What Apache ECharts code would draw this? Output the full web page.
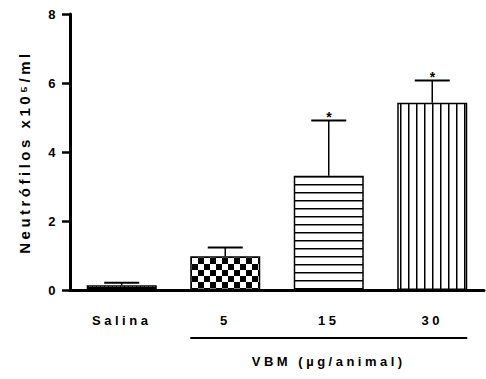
<!DOCTYPE html>
<html>
<head>
<meta charset="utf-8">
<script src="https://cdn.jsdelivr.net/npm/echarts@6/dist/echarts.min.js"></script>
<style>
  html, body { margin: 0; padding: 0; background: #fff; }
  #chart { width: 486px; height: 379px; }
  /* the original uses widely tracked lettering */
  #chart svg text { letter-spacing: 3.5px; }
</style>
</head>
<body>
<div id="chart"></div>
<script>
const categories = ['Salina', '5', '15', '30'];
const means = [0.14, 0.98, 3.31, 5.43];
const sems = [0.07, 0.25, 1.6, 0.64];
const significant = [false, false, true, true];
const yTicks = [0, 2, 4, 6, 8];

const FONT = '"Liberation Sans", Arial, sans-serif';

// fill patterns, one per bar
const makePattern = (w, h, draw) => {
  const c = document.createElement('canvas');
  c.width = w;
  c.height = h;
  const ctx = c.getContext('2d');
  ctx.fillStyle = '#fff';
  ctx.fillRect(0, 0, w, h);
  ctx.fillStyle = '#000';
  draw(ctx);
  return { image: c, repeat: 'repeat' };
};
const patterns = [
  makePattern(4, 3, ctx => { ctx.fillRect(0, 0, 4, 1); ctx.fillRect(0, 1, 1, 2); ctx.fillRect(0, 2, 4, 1); }),
  makePattern(12, 12, ctx => { ctx.fillRect(0, 0, 6, 6); ctx.fillRect(6, 6, 6, 6); }),
  makePattern(8, 8, ctx => { ctx.fillRect(0, 0, 8, 1.5); }),
  makePattern(8, 8, ctx => { ctx.fillRect(0, 0, 1.5, 8); })
];

const chart = echarts.init(document.getElementById('chart'), null, { renderer: 'svg' });

const option = {
  animation: false,
  grid: { left: 70, right: 2, top: 14, bottom: 89 },
  xAxis: {
    type: 'category',
    data: categories,
    axisLine: { lineStyle: { color: '#000', width: 3 } },
    axisTick: { show: false },
    axisLabel: { color: '#000', fontFamily: FONT, fontWeight: 'bold', fontSize: 13, margin: 24 }
  },
  yAxis: {
    type: 'value',
    min: 0,
    max: 8,
    interval: 2,
    name: 'Neutrófilos x10⁵/ml',
    nameLocation: 'middle',
    nameGap: 38,
    nameTextStyle: { color: '#000', fontFamily: FONT, fontWeight: 'bold', fontSize: 15 },
    splitLine: { show: false },
    axisLine: { show: true, lineStyle: { color: '#000', width: 3 } },
    axisTick: { show: true, length: 8, lineStyle: { color: '#000', width: 2.5 } },
    axisLabel: {
      color: '#000', fontFamily: FONT, fontWeight: 'bold', fontSize: 13, margin: 11,
      formatter: v => (yTicks.includes(v) ? String(v) : '')
    }
  },
  series: [
    {
      type: 'bar',
      barWidth: 70,
      data: means.map((v, i) => ({
        value: v,
        itemStyle: { color: patterns[i], borderColor: '#000', borderWidth: 1.5 }
      }))
    },
    {
      type: 'custom',
      z: 3,
      data: means.map((v, i) => [i, v, v + sems[i], significant[i] ? 1 : 0]),
      renderItem: (params, api) => {
        const base = api.coord([api.value(0), api.value(1)]);
        const top = api.coord([api.value(0), api.value(2)]);
        const half = 17.5;
        const children = [
          { type: 'line', shape: { x1: base[0], y1: base[1], x2: top[0], y2: top[1] }, style: { stroke: '#000', lineWidth: 1.5 } },
          { type: 'line', shape: { x1: top[0] - half, y1: top[1], x2: top[0] + half, y2: top[1] }, style: { stroke: '#000', lineWidth: 2 } }
        ];
        if (api.value(3)) {
          children.push({
            type: 'text',
            style: { text: '*', x: top[0] + 2, y: top[1] + 3, align: 'center', verticalAlign: 'bottom', fill: '#000', font: 'bold 14px ' + FONT }
          });
        }
        return { type: 'group', children };
      }
    }
  ]
};
chart.setOption(option);

// bracket line and group label under the VBM doses
const half = 35;
const left = chart.convertToPixel({ xAxisIndex: 0 }, '5') - half;
const right = chart.convertToPixel({ xAxisIndex: 0 }, '30') + half;
chart.setOption({
  graphic: [
    { type: 'line', shape: { x1: left, y1: 338, x2: right, y2: 338 }, style: { stroke: '#000', lineWidth: 2 } },
    {
      type: 'text',
      x: (left + right) / 2,
      y: 361,
      style: { text: 'VBM (µg/animal)', align: 'center', verticalAlign: 'middle', fill: '#000', font: 'bold 13px ' + FONT }
    }
  ]
});
</script>
</body>
</html>
